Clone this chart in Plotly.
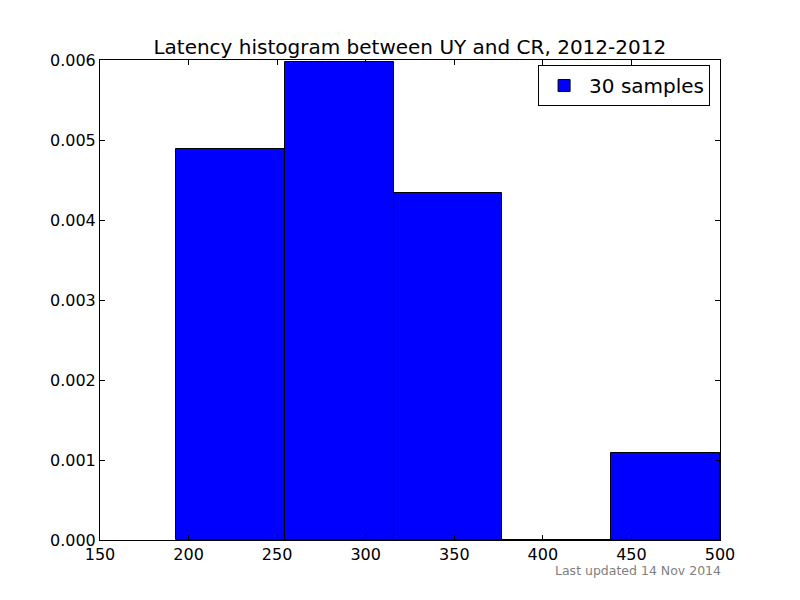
import plotly.graph_objects as go

# Histogram data (normed histogram, 30 samples)
bin_edges = [192.9, 254.3, 315.7, 377.2, 438.6, 500.0]
counts = [9, 11, 8, 0, 2]
n_samples = 30
x_ticks = [150, 200, 250, 300, 350, 400, 450, 500]
y_ticks = [0.000, 0.001, 0.002, 0.003, 0.004, 0.005, 0.006]

title = "Latency histogram between UY and CR, 2012-2012"
legend_label = "30 samples"
footnote = "Last updated 14 Nov 2014"

widths = [bin_edges[i + 1] - bin_edges[i] for i in range(len(counts))]
centers = [(bin_edges[i] + bin_edges[i + 1]) / 2 for i in range(len(counts))]
density = [c / (n_samples * w) for c, w in zip(counts, widths)]

font_family = "DejaVu Sans"

fig = go.Figure()
fig.add_trace(go.Bar(
    x=centers, y=density, width=widths,
    marker=dict(color="#0000ff", line=dict(color="#000000", width=1)),
    name=legend_label, showlegend=True,
))

axis_common = dict(
    showgrid=False, zeroline=False,
    showline=True, linecolor="black", linewidth=1, mirror="allticks",
    ticks="inside", ticklen=5, tickwidth=1, tickcolor="black",
    tickfont=dict(family=font_family, size=16, color="black"),
)

fig.update_layout(
    width=784, height=584,
    margin=dict(l=92, r=72, t=52, b=52),
    paper_bgcolor="white", plot_bgcolor="white",
    title=dict(text=title, x=0.5125, xanchor="center", y=0.9336, yanchor="middle",
               font=dict(family=font_family, size=20, color="black")),
    xaxis=dict(range=[150, 500], tickvals=x_ticks, ticktext=[str(v) for v in x_ticks], **axis_common),
    yaxis=dict(range=[0, 0.006], tickvals=y_ticks, ticktext=["%.3f" % v for v in y_ticks], **axis_common),
    legend=dict(x=0.984, xanchor="right", y=0.9895, yanchor="top",
                bordercolor="black", borderwidth=1, bgcolor="white",
                font=dict(family=font_family, size=20, color="black"),
                itemwidth=40),
    bargap=0,
    showlegend=True,
    annotations=[dict(text=footnote, xref="paper", yref="paper", x=1.003, y=-0.046,
                      xanchor="right", yanchor="top", showarrow=False, borderpad=0,
                      font=dict(family=font_family, size=12.5, color="#808080"))],
)

fig.write_html("out.html")
